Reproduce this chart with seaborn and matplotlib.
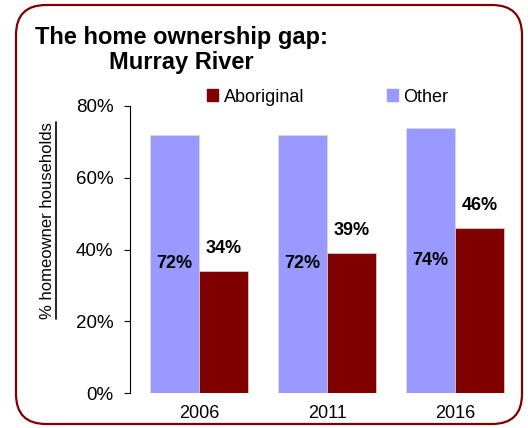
import matplotlib
matplotlib.use("Agg")
import matplotlib.pyplot as plt
import matplotlib.patches as mpatches
from matplotlib.lines import Line2D
from matplotlib.ticker import PercentFormatter
import pandas as pd
import seaborn as sns

# ─────────────────────────────────────────────
# Data
# ─────────────────────────────────────────────

years = ["2006", "2011", "2016"]
other = [72, 72, 74]
aboriginal = [34, 39, 46]
groups = ["Other", "Aboriginal"]
colors = {"Other": "#9999FF", "Aboriginal": "#800000"}

df = pd.DataFrame({
    "year": years * 2,
    "value": other + aboriginal,
    "group": ["Other"] * 3 + ["Aboriginal"] * 3,
})

# ─────────────────────────────────────────────
# Plot
# ─────────────────────────────────────────────

sns.set_style("white")
plt.rcParams["font.family"] = ["Liberation Sans", "DejaVu Sans"]
for key in ["text.color", "axes.labelcolor", "xtick.color", "ytick.color"]:
    plt.rcParams[key] = "black"

fig = plt.figure(figsize=(5.28, 4.28), dpi=100)
ax = fig.add_axes([130 / 528, 35 / 428, 389 / 528, 287 / 428])

sns.barplot(
    data=df, x="year", y="value", hue="group", hue_order=groups,
    palette=colors, width=0.77, saturation=1, ax=ax,
    edgecolor="#d8d8e8", linewidth=0.5,
)

ax.bar_label(ax.containers[0], fmt="%d%%", label_type="center",
             fontsize=13, fontweight="bold")
ax.bar_label(ax.containers[1], fmt="%d%%", padding=10,
             fontsize=13, fontweight="bold")

ax.set_ylim(0, 80)
ax.set_xlim(-0.54, 2.5)
ax.set_yticks([0, 20, 40, 60, 80])
ax.yaxis.set_major_formatter(PercentFormatter(decimals=0))
ax.tick_params(axis="y", length=4, width=0.8, direction="out", labelsize=13.5, pad=8, left=True)
ax.tick_params(axis="x", length=0, labelsize=13, pad=9)
ax.set_xlabel("")
ylab = ax.set_ylabel("% homeowner households", fontsize=12)
ax.yaxis.set_label_coords(-0.192, 0.6)

for side in ["top", "right", "bottom"]:
    ax.spines[side].set_visible(False)
ax.spines["left"].set_color("black")
ax.spines["left"].set_linewidth(0.8)

# legend: Aboriginal first, then Other
handles = [mpatches.Patch(color=colors["Aboriginal"]), mpatches.Patch(color=colors["Other"])]
ax.legend(handles, ["Aboriginal", "Other"], ncol=2, frameon=False,
          loc="center left", bbox_to_anchor=(200 / 528, 331 / 428),
          bbox_transform=fig.transFigure, fontsize=13,
          handlelength=0.6, handleheight=0.6, handletextpad=0.3,
          columnspacing=4.6, borderaxespad=0)

fig.text(181 / 528, 378 / 428, "The home ownership gap:\nMurray River",
         ha="center", va="center", multialignment="center",
         fontsize=17, fontweight="bold", linespacing=1.15)

# underline the y label (matplotlib has no underline for text)
fig.canvas.draw()
bb = ylab.get_window_extent().transformed(fig.transFigure.inverted())
fig.add_artist(Line2D([bb.x1 + 1 / 528, bb.x1 + 1 / 528], [bb.y0, bb.y1],
                      transform=fig.transFigure, color="black", linewidth=1.2))

# rounded border
border = mpatches.FancyBboxPatch(
    (0.16, 0.04), 5.06, 4.19, boxstyle="round,pad=0,rounding_size=0.3",
    transform=fig.dpi_scale_trans, fill=False, edgecolor="#800000", linewidth=1.6,
)
fig.patches.append(border)

fig.savefig("out.png", dpi=100)
